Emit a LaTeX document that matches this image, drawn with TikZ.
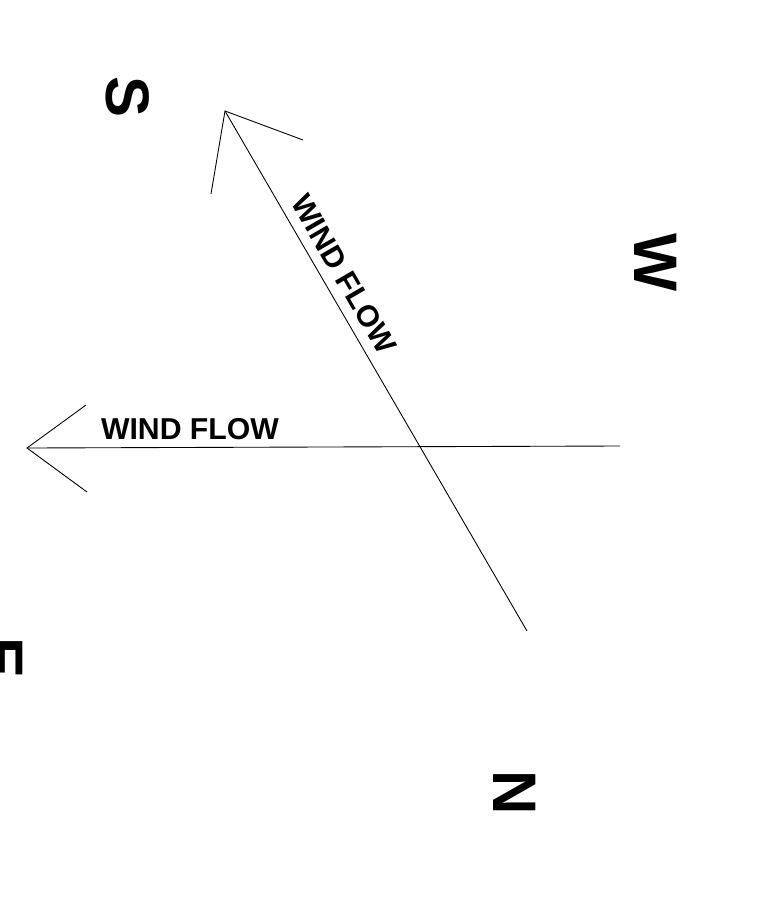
\documentclass[tikz,border=0pt]{standalone}
\usepackage{fontspec}
\setmainfont{Liberation Sans}
\usetikzlibrary{positioning,calc}

\begin{document}
\begin{tikzpicture}[x=0.02cm,y=-0.02cm,
  flowline/.style={line width=0.5pt},
  flowlabel/.style={font=\fontsize{17.2}{20}\selectfont\bfseries,inner sep=0pt},
  dirlabel/.style={font=\fontsize{35}{40}\selectfont\bfseries,rotate=-90,inner sep=0pt}]
  \useasboundingbox (0,0) rectangle (764,900);
  % compass letters
  \foreach \nm/\x/\y in {S/128/97,W/656/263,E/2/658,N/515/793}
    \node[dirlabel] (dir\nm) at (\x,\y) {\nm};
  % horizontal flow
  \coordinate (htip) at (27,448);
  \coordinate (htail) at (620,446);
  \coordinate (hbarbup) at (86,405);
  \coordinate (hbarbdn) at (87,492);
  \draw[flowline] (htail) -- (htip);
  \draw[flowline] (hbarbup) -- (htip) -- (hbarbdn);
  \node[flowlabel] (hlab) at (190,429) {WIND FLOW};
  % diagonal flow
  \coordinate (dtip) at (225,111);
  \coordinate (dtail) at (527,631);
  \coordinate (dbarbl) at (211,194);
  \coordinate (dbarbr) at (303,140);
  \draw[flowline] (dtail) -- (dtip);
  \draw[flowline] (dbarbl) -- (dtip) -- (dbarbr);
  \node[flowlabel,rotate=-59.9] (dlab) at (344,274) {WIND FLOW};
\end{tikzpicture}
\end{document}
